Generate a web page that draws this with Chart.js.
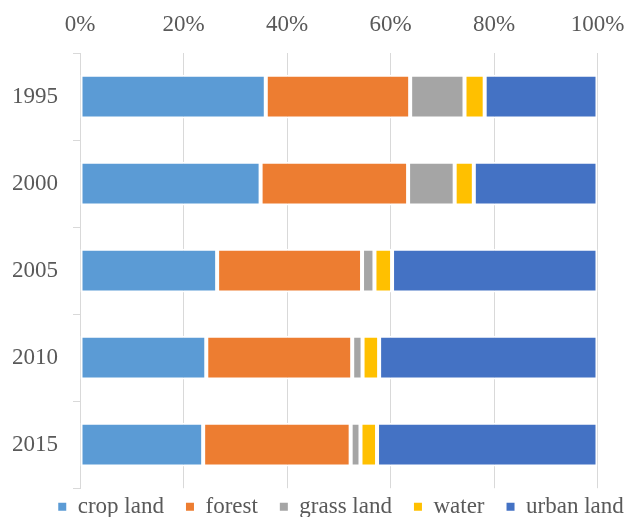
<!DOCTYPE html>
<html>
<head>
<meta charset="utf-8">
<script src="https://cdn.jsdelivr.net/npm/chart.js@4.4.1/dist/chart.umd.min.js"></script>
<style>
    body { margin: 0; background: #ffffff; }
    #box { width: 628px; height: 517px; }
</style>
</head>
<body>
<div id="box"><canvas id="grafico"></canvas></div>
<script>
const anos = ['1995', '2000', '2005', '2010', '2015'];
const cropLand = [35.9, 34.9, 26.5, 24.4, 23.8];
const forest = [27.9, 28.5, 28.0, 28.2, 28.5];
const grassLand = [10.5, 9.0, 2.4, 2.0, 1.9];
const water = [3.9, 3.7, 3.4, 3.2, 3.2];
const urbanLand = [21.8, 23.9, 39.7, 42.2, 42.6];
const ticksX = [0, 20, 40, 60, 80, 100];

const fonte = { family: "'Liberation Serif', 'Times New Roman', serif", size: 23 };
const corTexto = '#595959';
const corGrade = '#d9d9d9';

// moves the legend a bit so it sits like the original (off-centre, low)
const moverLegenda = {
    id: 'moverLegenda',
    afterLayout(chart) {
        const l = chart.legend;
        l.left += 27; l.right += 27;
        l.top -= 15; l.bottom += 10;
        l.height = l.bottom - l.top;
    }
};

const series = [
    { label: 'crop land', data: cropLand, cor: '#5B9BD5' },
    { label: 'forest', data: forest, cor: '#ED7D31' },
    { label: 'grass land', data: grassLand, cor: '#A5A5A5' },
    { label: 'water', data: water, cor: '#FFC000' },
    { label: 'urban land', data: urbanLand, cor: '#4472C4' }
];

new Chart(document.getElementById('grafico'), {
    type: 'bar',
    data: {
        labels: anos,
        datasets: series.map(s => ({
            label: s.label,
            data: s.data,
            backgroundColor: s.cor,
            borderColor: '#ffffff',
            borderWidth: 2,
            borderSkipped: false,
            barPercentage: 0.503,
            categoryPercentage: 1
        }))
    },
    options: {
        indexAxis: 'y',
        responsive: true,
        maintainAspectRatio: false,
        animation: false,
        layout: { padding: 0 },
        scales: {
            x: {
                position: 'top',
                stacked: true,
                min: 0,
                max: 100,
                afterBuildTicks: scale => { scale.ticks = ticksX.map(v => ({ value: v })); },
                afterFit: scale => {
                    scale.height = 53;
                    scale.paddingLeft = 0;
                    scale.paddingRight = 30.5;
                },
                ticks: {
                    callback: v => v + '%',
                    color: corTexto,
                    font: fonte,
                    padding: 14
                },
                grid: { color: corGrade, drawTicks: false },
                border: { display: false }
            },
            y: {
                stacked: true,
                afterFit: scale => { scale.width = 80; },
                ticks: { color: corTexto, font: fonte, padding: 15 },
                grid: {
                    offset: true,
                    drawOnChartArea: false,
                    tickLength: 7,
                    color: corGrade
                },
                border: { color: corGrade, width: 1 }
            }
        },
        plugins: {
            legend: {
                position: 'bottom',
                maxHeight: 27,
                labels: {
                    color: corTexto,
                    font: fonte,
                    boxWidth: 8,
                    boxHeight: 8,
                    padding: 22,
                    generateLabels: chart => Chart.defaults.plugins.legend.labels.generateLabels(chart)
                        .map(item => ({ ...item, lineWidth: 0 }))
                }
            },
            tooltip: { enabled: false }
        }
    },
    plugins: [moverLegenda]
});
</script>
</body>
</html>
